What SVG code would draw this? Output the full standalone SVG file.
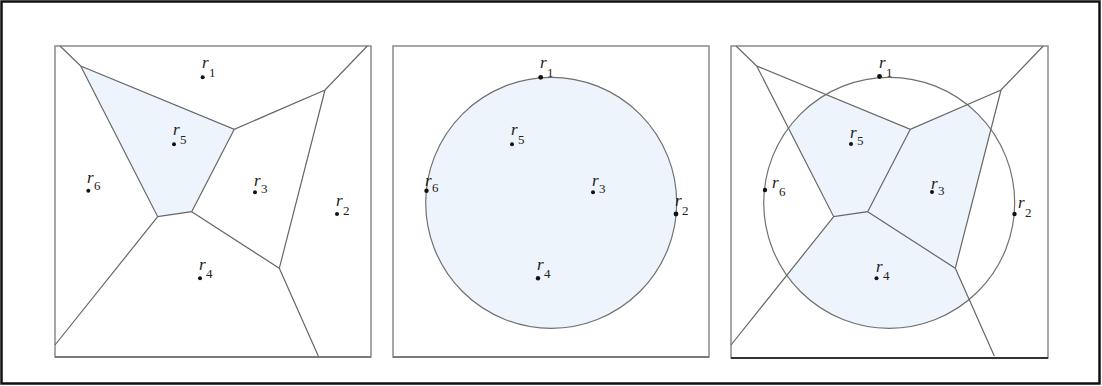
<svg xmlns="http://www.w3.org/2000/svg" width="1102" height="386" viewBox="0 0 1102 386">
<style>
.frame{fill:none;stroke:#111;stroke-width:2.5}
.panel{fill:#fff;stroke:#8a8a8a;stroke-width:1.5}
.base{stroke:#7a7a7a;stroke-width:2}
.base3{stroke:#333;stroke-width:2}
.edge{fill:none;stroke:#666;stroke-width:1.2}
.cell{fill:#eef4fc;stroke:none}
.circ{fill:none;stroke:#707070;stroke-width:1.2}
.dot{fill:#111}
.r{font-family:"Liberation Serif",serif;font-style:italic;font-size:17px;fill:#222}
.s{font-family:"Liberation Serif",serif;font-size:13px;fill:#222}
</style>
<defs>
<clipPath id="cc"><circle cx="158.2" cy="156.8" r="125.5"/></clipPath>
<path id="vor" class="edge" d="M5,0 L25.7,20 L179.3,83.3 L270,44 L312.3,0 M25.7,20 L102.7,170.7 L136.7,165.7 L179.3,83.3 M136.7,165.7 L224.3,222.3 L270,44 M102.7,170.7 L0,299 M224.3,222.3 L263.3,310"/>
</defs>
<rect class="frame" x="1.5" y="1.5" width="1098" height="382"/>

<g id="panel1" transform="translate(55,46)">
<rect class="panel" x="0" y="0" width="316" height="311"/>
<line class="base" x1="0" y1="311" x2="316" y2="311"/>
<polygon class="cell" points="25.7,20 179.3,83.3 136.7,165.7 102.7,170.7"/>
<use href="#vor"/>
<g class="dot"><circle cx="147.7" cy="31.3" r="2"/><circle cx="282" cy="168" r="2"/><circle cx="200" cy="146.3" r="2"/><circle cx="145" cy="232.3" r="2"/><circle cx="119" cy="98.3" r="2"/><circle cx="33.3" cy="144.7" r="2"/></g>
<text class="r" x="147" y="22">r</text><text class="s" x="154" y="31">1</text>
<text class="r" x="281" y="160">r</text><text class="s" x="288" y="169">2</text>
<text class="r" x="199" y="140">r</text><text class="s" x="206" y="147">3</text>
<text class="r" x="144" y="224">r</text><text class="s" x="151" y="232">4</text>
<text class="r" x="118" y="89">r</text><text class="s" x="125" y="98">5</text>
<text class="r" x="32" y="137">r</text><text class="s" x="39" y="144">6</text>
</g>

<g id="panel2" transform="translate(393,46)">
<rect class="panel" x="0" y="0" width="316" height="311"/>
<line class="base" x1="0" y1="311" x2="316" y2="311"/>
<circle class="cell" cx="158.2" cy="156.8" r="125.5"/>
<circle class="circ" cx="158.2" cy="156.8" r="125.5"/>
<g class="dot"><circle cx="147.7" cy="31.3" r="2.4"/><circle cx="283" cy="168" r="2.4"/><circle cx="200" cy="146.3" r="2"/><circle cx="145" cy="232.3" r="2.2"/><circle cx="119" cy="98.3" r="2"/><circle cx="33.5" cy="144.7" r="2.2"/></g>
<text class="r" x="147" y="22">r</text><text class="s" x="154" y="31">1</text>
<text class="r" x="282" y="160">r</text><text class="s" x="289" y="169">2</text>
<text class="r" x="199" y="140">r</text><text class="s" x="206" y="147">3</text>
<text class="r" x="144" y="224">r</text><text class="s" x="151" y="232">4</text>
<text class="r" x="118" y="89">r</text><text class="s" x="125" y="98">5</text>
<text class="r" x="32" y="140">r</text><text class="s" x="39" y="146">6</text>
</g>

<g id="panel3" transform="translate(731,46)">
<rect class="panel" x="0" y="0" width="317" height="312"/>
<line class="base3" x1="0" y1="312" x2="317" y2="312"/>
<g clip-path="url(#cc)">
<polygon class="cell" points="25.7,20 179.3,83.3 136.7,165.7 102.7,170.7"/>
<polygon class="cell" points="179.3,83.3 270,44 224.3,222.3 136.7,165.7"/>
<polygon class="cell" points="102.7,170.7 136.7,165.7 224.3,222.3 263.3,310 0,310 0,299"/>
</g>
<circle class="circ" cx="158.2" cy="156.8" r="125.5"/>
<use href="#vor"/>
<g class="dot"><circle cx="148.5" cy="30.5" r="2.4"/><circle cx="283.5" cy="168" r="2.2"/><circle cx="201" cy="146" r="2"/><circle cx="145.5" cy="232.3" r="2"/><circle cx="120" cy="98" r="2"/><circle cx="34" cy="144" r="2.2"/></g>
<text class="r" x="148" y="22">r</text><text class="s" x="155" y="31">1</text>
<text class="r" x="287" y="162">r</text><text class="s" x="294" y="171">2</text>
<text class="r" x="200" y="143">r</text><text class="s" x="207" y="149">3</text>
<text class="r" x="145" y="226">r</text><text class="s" x="152" y="234">4</text>
<text class="r" x="119" y="92">r</text><text class="s" x="126" y="99">5</text>
<text class="r" x="41" y="142">r</text><text class="s" x="48" y="150">6</text>
</g>
</svg>
